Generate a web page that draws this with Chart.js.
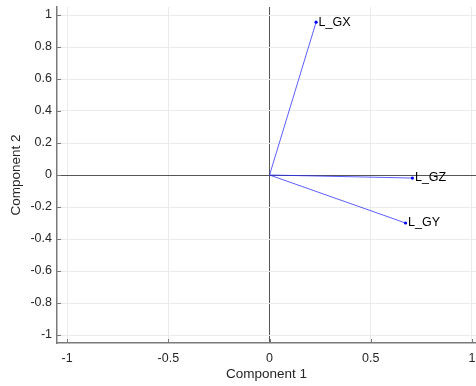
<!DOCTYPE html>
<html>
<head>
<meta charset="utf-8">
<script src="https://cdn.jsdelivr.net/npm/chart.js@4/dist/chart.umd.min.js"></script>
<style>
  html, body { margin: 0; padding: 0; background: #ffffff; overflow: hidden; }
  #wrap { width: 476px; height: 386px; overflow: hidden; }
</style>
</head>
<body>
<div id="wrap"><canvas id="canvas" width="480" height="386"></canvas></div>
<script>
// Variable loadings (biplot vectors)
var varNames = ["L_GX", "L_GY", "L_GZ"];
var comp1 = [0.23, 0.672, 0.706];
var comp2 = [0.955, -0.30, -0.019];

// Tick positions and their labels
var xTicks = [-1, -0.5, 0, 0.5, 1];
var xTickLabels = ["-1", "-0.5", "0", "0.5", "1"];
var yTicks = [-1, -0.8, -0.6, -0.4, -0.2, 0, 0.2, 0.4, 0.6, 0.8, 1];
var yTickLabels = ["-1", "-0.8", "-0.6", "-0.4", "-0.2", "0", "0.2", "0.4", "0.6", "0.8", "1"];

var textColor = "#262626";
var axisColor = "#7a7a7a";
var gridColor = "#ebebeb";
var zeroColor = "#555555";
var vecColor = "rgba(40, 40, 255, 0.75)";

Chart.defaults.font.family = "'Liberation Sans', Arial, sans-serif";
Chart.defaults.color = textColor;

// build one line dataset per variable: origin -> loading
var datasets = [];
for (var i = 0; i < varNames.length; i++) {
  datasets.push({
    label: varNames[i],
    data: [{x: 0, y: 0}, {x: comp1[i], y: comp2[i]}],
    showLine: true,
    borderColor: vecColor,
    borderWidth: 1,
    pointRadius: [0, 1.6],
    pointBackgroundColor: "#0000ff",
    pointBorderWidth: 0
  });
}

// text labels next to vector tips
var tipLabels = {
  id: "tipLabels",
  afterDatasetsDraw: function (chart) {
    var ctx = chart.ctx;
    ctx.save();
    ctx.font = "12.5px 'Liberation Sans', Arial, sans-serif";
    ctx.fillStyle = "#000000";
    ctx.textAlign = "left";
    ctx.textBaseline = "middle";
    chart.data.datasets.forEach(function (ds, i) {
      var pt = chart.getDatasetMeta(i).data[1];
      ctx.fillText(ds.label, pt.x + 2.5, pt.y);
    });
    ctx.restore();
  }
};

// MATLAB style inward tick marks
var inwardTicks = {
  id: "inwardTicks",
  afterDraw: function (chart) {
    var ctx = chart.ctx;
    var xs = chart.scales.x, ys = chart.scales.y;
    var area = chart.chartArea;
    ctx.save();
    ctx.strokeStyle = axisColor;
    ctx.lineWidth = 1;
    ctx.beginPath();
    xTicks.forEach(function (v) {
      var px = Math.round(xs.getPixelForValue(v)) + 0.5;
      ctx.moveTo(px, area.bottom);
      ctx.lineTo(px, area.bottom - 4);
    });
    yTicks.forEach(function (v) {
      var py = Math.round(ys.getPixelForValue(v)) + 0.5;
      ctx.moveTo(area.left, py);
      ctx.lineTo(area.left + 4, py);
    });
    ctx.stroke();
    ctx.restore();
  }
};

var canvas = document.getElementById("canvas");
var myChart = new Chart(canvas, {
  type: "scatter",
  data: {datasets: datasets},
  options: {
    responsive: false,
    animation: false,
    devicePixelRatio: 1,
    layout: {padding: {top: 7, left: 0, right: 0, bottom: 0}},
    plugins: {legend: {display: false}, tooltip: {enabled: false}},
    scales: {
      x: {
        type: "linear",
        min: -1.05,
        max: 1.02,
        afterBuildTicks: function (scale) {
          scale.ticks = xTicks.map(function (v) { return {value: v}; });
        },
        afterFit: function (scale) {
          scale.height = 43;
          scale.paddingLeft = 0;
          scale.paddingRight = 0;
        },
        ticks: {
          padding: 8,
          font: {size: 12.5},
          color: textColor,
          maxRotation: 0,
          callback: function (value, index) { return xTickLabels[index]; }
        },
        grid: {
          drawTicks: false,
          color: function (c) { return c.tick && c.tick.value === 0 ? zeroColor : gridColor; },
          lineWidth: 1
        },
        border: {display: true, color: axisColor, width: 1.5},
        title: {display: true, text: "Component 1", font: {size: 13.5}, color: textColor, padding: {top: 0, bottom: 4}}
      },
      y: {
        type: "linear",
        min: -1.05,
        max: 1.05,
        afterBuildTicks: function (scale) {
          scale.ticks = yTicks.map(function (v) { return {value: v}; });
        },
        afterFit: function (scale) {
          scale.width = 57;
          scale.paddingTop = 0;
          scale.paddingBottom = 0;
        },
        ticks: {
          padding: 5,
          font: {size: 12.5},
          color: textColor,
          callback: function (value, index) { return yTickLabels[index]; }
        },
        grid: {
          drawTicks: false,
          color: function (c) { return c.tick && c.tick.value === 0 ? zeroColor : gridColor; },
          lineWidth: 1
        },
        border: {display: true, color: axisColor, width: 1.5},
        title: {display: true, text: "Component 2", font: {size: 13.5}, color: textColor, padding: {top: 8, bottom: 0}}
      }
    }
  },
  plugins: [tipLabels, inwardTicks]
});
</script>
</body>
</html>
